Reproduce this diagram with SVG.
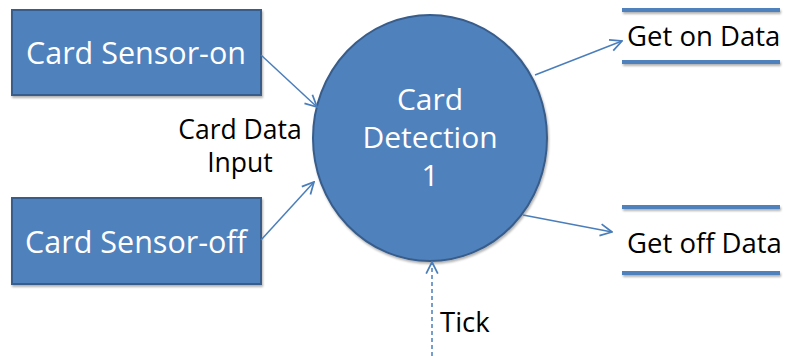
<svg xmlns="http://www.w3.org/2000/svg" width="787" height="356" viewBox="0 0 787 356">
<style>
.box{fill:#4F81BD;stroke:#385D8A;stroke-width:2}
.wt{fill:#FFFFFF;font-family:"Open Sans","Liberation Sans",sans-serif;text-anchor:middle}
.bt{fill:#000000;font-family:"Open Sans","Liberation Sans",sans-serif}
.store{stroke:#4F81BD;stroke-width:4}
.conn{stroke:#4A7EBB;stroke-width:1.5;fill:none;marker-end:url(#arr)}
</style>
<defs>
<marker id="arr" markerUnits="userSpaceOnUse" markerWidth="14" markerHeight="14" viewBox="0 0 12 12" refX="11" refY="6" orient="auto">
<path d="M1,1 L11,6 L1,11" fill="none" stroke="#4A7EBB" stroke-width="1.5"/>
</marker>
<filter id="sh" x="-10%" y="-10%" width="130%" height="140%">
<feDropShadow dx="1" dy="2" stdDeviation="1.2" flood-color="#000" flood-opacity="0.3"/>
</filter>
<filter id="lsh" filterUnits="userSpaceOnUse" x="600" y="0" width="200" height="300">
<feDropShadow dx="1" dy="2" stdDeviation="1" flood-color="#000" flood-opacity="0.3"/>
</filter>
</defs>
<g id="sensor-on">
<rect class="box" x="12" y="10" width="249" height="85" filter="url(#sh)"/>
<text class="wt" x="136" y="64" font-size="30.5">Card Sensor-on</text>
</g>
<g id="sensor-off">
<rect class="box" x="12" y="198" width="249" height="86" filter="url(#sh)"/>
<text class="wt" x="136" y="253" font-size="30.5">Card Sensor-off</text>
</g>
<g id="detection">
<ellipse class="box" cx="430" cy="138" rx="117" ry="123" filter="url(#sh)"/>
<text class="wt" x="430" y="110" font-size="30">Card</text>
<text class="wt" x="430" y="148" font-size="30">Detection</text>
<text class="wt" x="430" y="186" font-size="30">1</text>
</g>
<g id="get-on">
<line class="store" x1="622" y1="10" x2="780" y2="10" filter="url(#lsh)"/>
<line class="store" x1="622" y1="62" x2="780" y2="62" filter="url(#lsh)"/>
<text class="bt" x="627" y="46" font-size="27.5">Get on Data</text>
</g>
<g id="get-off">
<line class="store" x1="622" y1="207" x2="780" y2="207" filter="url(#lsh)"/>
<line class="store" x1="622" y1="273" x2="780" y2="273" filter="url(#lsh)"/>
<text class="bt" x="627" y="253" font-size="27.5">Get off Data</text>
</g>
<g id="connectors">
<line class="conn" x1="261" y1="55" x2="317" y2="107"/>
<line class="conn" x1="261" y1="240" x2="314" y2="182"/>
<line class="conn" x1="535" y1="75" x2="622" y2="41"/>
<line class="conn" x1="523" y1="215" x2="612" y2="232"/>
<line class="conn" x1="432" y1="356" x2="432" y2="262" stroke-dasharray="4,3"/>
</g>
<g id="labels">
<text class="bt" x="240" y="139" font-size="26.5" text-anchor="middle">Card Data</text>
<text class="bt" x="240" y="172" font-size="26.5" text-anchor="middle">Input</text>
<text class="bt" x="440" y="332" font-size="27.5">Tick</text>
</g>
</svg>
